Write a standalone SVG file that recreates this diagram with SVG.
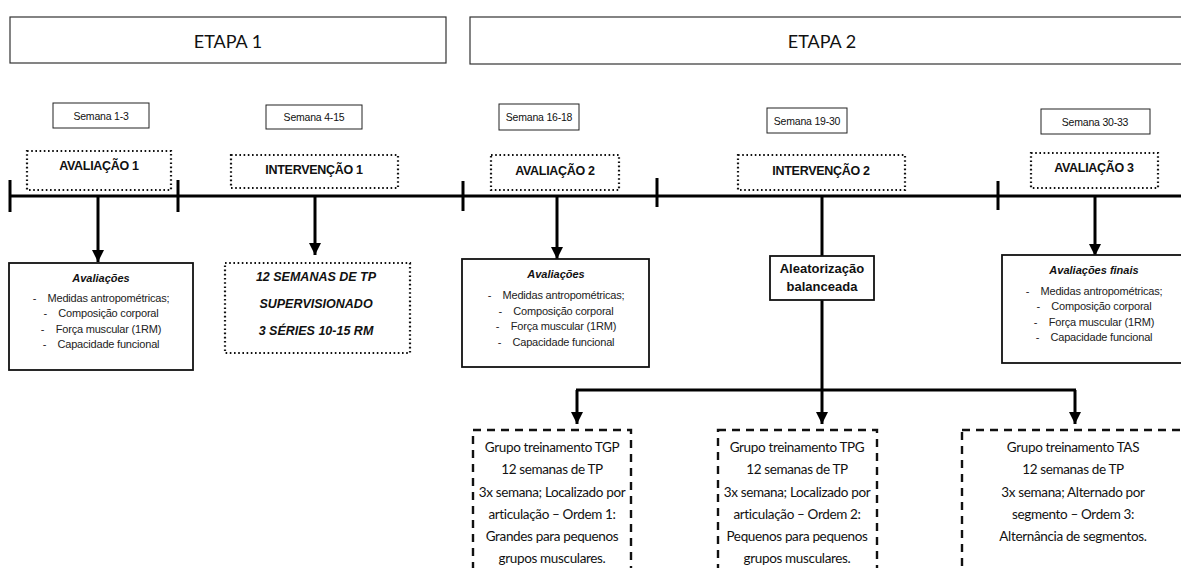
<svg xmlns="http://www.w3.org/2000/svg" width="1181" height="568" viewBox="0 0 1181 568">
<defs>
<marker id="ah" markerWidth="12" markerHeight="12" refX="10" refY="5" orient="auto" markerUnits="userSpaceOnUse" viewBox="0 0 10 10">
<path d="M0,0 L10,5 L0,10 Z" fill="#000"/>
</marker>
<style>
.etapa{fill:#fff;stroke:#333;stroke-width:1.2}
.et{font-family:"Lato","Open Sans",sans-serif;font-size:18px;fill:#111;text-anchor:middle}
.sem{fill:#fff;stroke:#222;stroke-width:1}
.st{font-family:"Liberation Sans",Arial,sans-serif;font-size:10.5px;fill:#111;text-anchor:middle;letter-spacing:-0.2px}
.dot{fill:#fff;stroke:#111;stroke-width:2.2;stroke-dasharray:1.6 2.6}
.dt{font-family:"Liberation Sans",Arial,sans-serif;font-size:12.5px;font-weight:bold;fill:#111;text-anchor:middle;letter-spacing:-0.3px}
.box{fill:#fff;stroke:#111;stroke-width:1.8}
.bt{font-family:"Liberation Sans",Arial,sans-serif;font-size:11px;font-weight:bold;font-style:italic;fill:#111;text-anchor:middle}
.lt{font-family:"Liberation Sans",Arial,sans-serif;font-size:11px;fill:#222;text-anchor:middle;white-space:pre;letter-spacing:-0.2px}
.it{font-family:"Liberation Sans",Arial,sans-serif;font-size:12.5px;font-weight:bold;font-style:italic;fill:#111;text-anchor:middle}
.ab{font-family:"Liberation Sans",Arial,sans-serif;font-size:13px;font-weight:bold;fill:#111;text-anchor:middle}
.dash{fill:#fff;stroke:#111;stroke-width:2.4;stroke-dasharray:8 6}
.gt{font-family:"Lato","Noto Sans",sans-serif;font-size:13.5px;fill:#111;text-anchor:middle;letter-spacing:-0.35px}
.ln{stroke:#000;stroke-width:3;fill:none}
.arr{stroke:#000;stroke-width:3;fill:none;marker-end:url(#ah)}
</style>
</defs>
<rect width="1181" height="568" fill="#fff"/>

<g id="etapa1"><rect class="etapa" x="10" y="17" width="436" height="46"/><text class="et" x="228" y="48">ETAPA 1</text></g>
<g id="etapa2"><rect class="etapa" x="470" y="17" width="720" height="47"/><text class="et" x="822" y="48">ETAPA 2</text></g>

<g id="sem1"><rect class="sem" x="53" y="103" width="96" height="25"/><text class="st" x="101" y="119.5">Semana 1-3</text></g>
<g id="sem2"><rect class="sem" x="266" y="105" width="96" height="24"/><text class="st" x="314" y="121">Semana 4-15</text></g>
<g id="sem3"><rect class="sem" x="499" y="104" width="80" height="26"/><text class="st" x="539" y="121">Semana 16-18</text></g>
<g id="sem4"><rect class="sem" x="767" y="108" width="80" height="25"/><text class="st" x="807" y="124.5">Semana 19-30</text></g>
<g id="sem5"><rect class="sem" x="1041" y="109" width="109" height="25"/><text class="st" x="1095" y="125.5">Semana 30-33</text></g>

<g id="av1"><rect class="dot" x="27" y="151" width="144" height="39"/><text class="dt" x="99" y="170">AVALIAÇÃO 1</text></g>
<g id="int1"><rect class="dot" x="231" y="155" width="167" height="33"/><text class="dt" x="314" y="174">INTERVENÇÃO 1</text></g>
<g id="av2"><rect class="dot" x="491" y="155" width="128" height="35"/><text class="dt" x="555" y="175">AVALIAÇÃO 2</text></g>
<g id="int2"><rect class="dot" x="738" y="155" width="167" height="35"/><text class="dt" x="821" y="175">INTERVENÇÃO 2</text></g>
<g id="av3"><rect class="dot" x="1031" y="153" width="127" height="35"/><text class="dt" x="1094" y="172">AVALIAÇÃO 3</text></g>

<g id="connectors">
<line class="ln" x1="10" y1="196" x2="1181" y2="196"/>
<line class="ln" x1="10" y1="180" x2="10" y2="212"/>
<line class="ln" x1="178" y1="180" x2="178" y2="212"/>
<line class="ln" x1="463" y1="181" x2="463" y2="211"/>
<line class="ln" x1="657" y1="178" x2="657" y2="207"/>
<line class="ln" x1="998" y1="181" x2="998" y2="210"/>
<line class="arr" x1="98" y1="197" x2="98" y2="262"/>
<line class="arr" x1="315" y1="197" x2="315" y2="255"/>
<line class="arr" x1="557" y1="197" x2="557" y2="259"/>
<line class="arr" x1="1095" y1="197" x2="1095" y2="256"/>
<line class="ln" x1="822" y1="197" x2="822" y2="256"/>
<line class="ln" x1="822" y1="300" x2="822" y2="390"/>
<line class="ln" x1="576" y1="390" x2="1076" y2="390"/>
<line class="arr" x1="577" y1="390" x2="577" y2="424"/>
<line class="arr" x1="822" y1="390" x2="822" y2="424"/>
<line class="arr" x1="1075" y1="390" x2="1075" y2="424"/>
</g>

<g id="aval1"><rect class="box" x="9" y="263" width="184" height="107"/>
<text class="bt" x="101" y="282">Avaliações</text>
<text class="lt" x="101" y="302">-    Medidas antropométricas;</text>
<text class="lt" x="101" y="317">-    Composição corporal</text>
<text class="lt" x="101" y="333">-    Força muscular (1RM)</text>
<text class="lt" x="101" y="348">-    Capacidade funcional</text></g>

<g id="tp12"><rect class="dot" x="225" y="263" width="185" height="90"/>
<text class="it" x="316" y="281">12 SEMANAS DE TP</text>
<text class="it" x="316" y="308">SUPERVISIONADO</text>
<text class="it" x="316" y="335">3 SÉRIES 10-15 RM</text></g>

<g id="aval2"><rect class="box" x="462" y="259" width="187" height="108"/>
<text class="bt" x="556" y="278">Avaliações</text>
<text class="lt" x="556" y="299">-    Medidas antropométricas;</text>
<text class="lt" x="556" y="315">-    Composição corporal</text>
<text class="lt" x="556" y="330">-    Força muscular (1RM)</text>
<text class="lt" x="556" y="346">-    Capacidade funcional</text></g>

<g id="aleat"><rect class="box" x="770" y="256" width="104" height="44"/>
<text class="ab" x="822" y="273">Aleatorização</text>
<text class="ab" x="822" y="291">balanceada</text></g>

<g id="avalf"><rect class="box" x="1002" y="255" width="190" height="108"/>
<text class="bt" x="1094" y="274">Avaliações finais</text>
<text class="lt" x="1094" y="295">-    Medidas antropométricas;</text>
<text class="lt" x="1094" y="310">-    Composição corporal</text>
<text class="lt" x="1094" y="326">-    Força muscular (1RM)</text>
<text class="lt" x="1094" y="341">-    Capacidade funcional</text></g>

<g id="tgp"><rect class="dash" x="473" y="430" width="158" height="150"/>
<text class="gt" x="552" y="452">Grupo treinamento  TGP</text>
<text class="gt" x="552" y="474">12 semanas de TP</text>
<text class="gt" x="552" y="497">3x semana; Localizado por</text>
<text class="gt" x="552" y="519">articulação – Ordem 1:</text>
<text class="gt" x="552" y="541">Grandes para pequenos</text>
<text class="gt" x="552" y="563">grupos musculares.</text></g>

<g id="tpg"><rect class="dash" x="718" y="430" width="159" height="150"/>
<text class="gt" x="797" y="452">Grupo treinamento  TPG</text>
<text class="gt" x="797" y="474">12 semanas de TP</text>
<text class="gt" x="797" y="497">3x semana; Localizado por</text>
<text class="gt" x="797" y="519">articulação – Ordem 2:</text>
<text class="gt" x="797" y="541">Pequenos para pequenos</text>
<text class="gt" x="797" y="563">grupos musculares.</text></g>

<g id="tas"><rect class="dash" x="962" y="430" width="240" height="150"/>
<text class="gt" x="1073" y="452">Grupo treinamento  TAS</text>
<text class="gt" x="1073" y="474">12 semanas de TP</text>
<text class="gt" x="1073" y="497">3x semana; Alternado por</text>
<text class="gt" x="1073" y="519">segmento – Ordem 3:</text>
<text class="gt" x="1073" y="541">Alternância de segmentos.</text></g>
</svg>
